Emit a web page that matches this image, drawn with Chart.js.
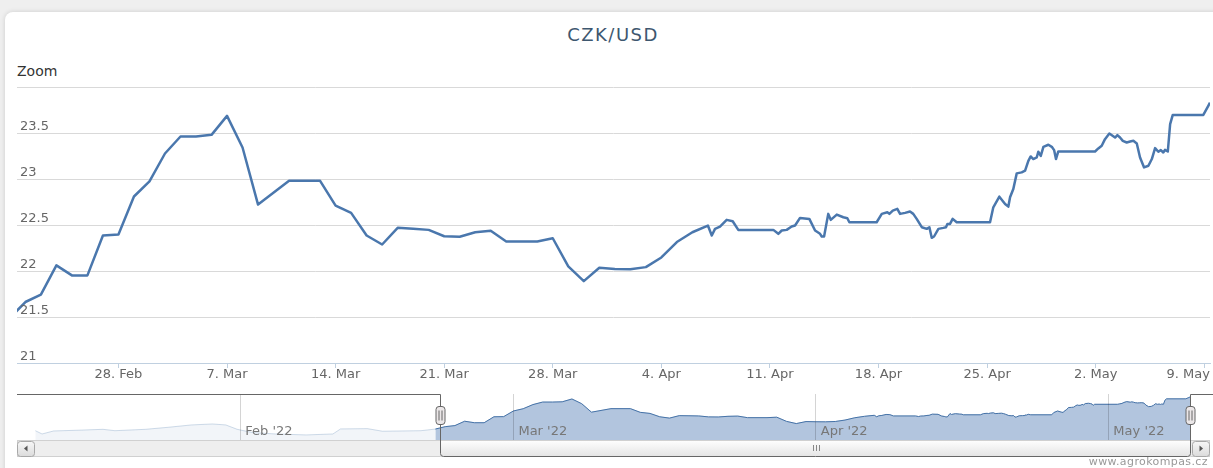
<!DOCTYPE html>
<html>
<head>
<meta charset="utf-8">
<script src="https://cdn.jsdelivr.net/npm/chart.js@4.4.0/dist/chart.umd.min.js"></script>
<style>
  html, body { margin: 0; padding: 0; }
  body { width: 1213px; height: 468px; overflow: hidden; background: #efefef; position: relative; font-family: "DejaVu Sans", sans-serif; }
  #card { position: absolute; left: 5px; top: 12px; width: 1224px; height: 476px; background: #fff; border-radius: 8px; box-shadow: 0 0 5px rgba(0,0,0,0.14); }
  canvas { position: absolute; left: 0; }
  #main { top: 0; }
  #nav { top: 394px; }
  .txt { position: absolute; white-space: nowrap; }
  #title { left: 0; width: 1226px; text-align: center; top: 26px; font-size: 18px; line-height: 18px; color: #3E576F; letter-spacing: 1.5px; }
  #zoom { left: 17px; top: 64px; font-size: 14px; line-height: 14px; color: #333; }
  #credit { right: 5px; top: 456px; font-size: 11px; line-height: 12px; color: #999; letter-spacing: 0.4px; }
</style>
</head>
<body>
<div id="card"></div>
<div class="txt" id="title">CZK/USD</div>
<div class="txt" id="zoom">Zoom</div>
<canvas id="main" width="1213" height="392"></canvas>
<canvas id="nav" width="1213" height="64"></canvas>
<div class="txt" id="credit">www.agrokompas.cz</div>
<script>
// x values are days counted from 28 Feb 2022 (fractions = intraday quotes)
const days = [-7, -6, -5, -4, -3, -2, -1, 0, 1, 2, 3, 4, 5, 6, 7, 8, 9, 11, 13, 14,
  15, 16, 17, 18, 19, 20, 21, 22, 23, 24, 25, 27, 28, 29, 30, 31, 32, 33, 34, 35,
  36, 37, 38, 38.25, 38.46, 38.78, 39.21, 39.6, 39.96, 42.22, 42.54, 42.76, 43.08, 43.4, 43.62, 43.94,
  44.54, 44.91, 45.23, 45.34, 45.49, 45.76, 45.92, 46.31, 46.73, 46.99, 47.12, 48.88, 49.21, 49.57,
  49.7, 49.92, 50.21, 50.39, 50.71, 51.03, 51.24, 51.46, 51.79, 52.11, 52.28, 52.43, 52.58, 52.86,
  53.18, 53.35, 53.44, 53.61, 53.78, 54.04, 56.19, 56.4, 56.79, 57.16, 57.37, 57.48, 57.69, 57.91,
  58.23, 58.45, 58.66, 58.81, 58.98, 59.2, 59.3, 59.46, 59.63, 59.95, 60.17, 60.32, 60.44, 60.59,
  62.96, 63.17, 63.39, 63.6, 63.88, 64.25, 64.4, 64.57, 64.75, 65.0, 65.22, 65.43, 65.65, 65.86,
  66.12, 66.4, 66.62, 66.83, 67.04, 67.2, 67.36, 67.47, 67.65, 67.8, 67.97, 69.94, 70.26, 70.37]
const rates = [21.49, 21.663, 21.743, 22.061, 21.952, 21.952, 22.386, 22.397, 22.81, 22.974, 23.277, 23.462, 23.462, 23.48, 23.686, 23.342, 22.722, 22.98, 22.98, 22.711,
  22.632, 22.386, 22.288, 22.469, 22.46, 22.447, 22.378, 22.372, 22.421, 22.437, 22.321, 22.321, 22.356, 22.05, 21.89, 22.036, 22.023, 22.018, 22.042, 22.147,
  22.315, 22.421, 22.494, 22.386, 22.458, 22.483, 22.556, 22.541, 22.447, 22.447, 22.404, 22.44, 22.447, 22.483, 22.494, 22.577,
  22.566, 22.44, 22.404, 22.375, 22.375, 22.621, 22.556, 22.613, 22.584, 22.573, 22.53, 22.53, 22.621, 22.638,
  22.621, 22.657, 22.675, 22.621, 22.632, 22.646, 22.621, 22.567, 22.476, 22.458, 22.476, 22.361, 22.375, 22.458,
  22.469, 22.476, 22.512, 22.512, 22.567, 22.53, 22.53, 22.692, 22.808, 22.729, 22.7, 22.801, 22.892, 23.061,
  23.072, 23.09, 23.198, 23.245, 23.217, 23.234, 23.296, 23.252, 23.35, 23.372, 23.35, 23.314, 23.217, 23.299,
  23.299, 23.332, 23.361, 23.433, 23.494, 23.451, 23.477, 23.451, 23.415, 23.397, 23.407, 23.415, 23.386, 23.234,
  23.126, 23.144, 23.217, 23.336, 23.296, 23.314, 23.288, 23.317, 23.299, 23.596, 23.697, 23.697, 23.795, 23.83]

// older quotes only visible in the navigator
const navDays = [-48.02, -47.33, -46.14, -43.79, -41.08, -39.86, -36.72, -34.37, -32.02, -29.87,
  -28.49, -27.32, -25.74, -23.39, -20.25, -17.51, -16.72, -13.98, -12.42, -8.48]
const navRates = [21.37, 21.13, 21.35, 21.4, 21.47, 21.37, 21.47, 21.62, 21.79, 21.86,
  21.79, 21.47, 21.23, 21.13, 21.06, 21.13, 21.5, 21.52, 21.33, 21.37]

const xTickDays = [0, 7, 14, 21, 28, 35, 42, 49, 56, 63, 70]
const xTickLabels = ['28. Feb', '7. Mar', '14. Mar', '21. Mar', '28. Mar', '4. Apr', '11. Apr', '18. Apr', '25. Apr', '2. May', '9. May']
const yTicks = [21, 21.5, 22, 22.5, 23, 23.5]
const monthDays = [-27, 1, 32, 62]
const monthLabels = ["Feb '22", "Mar '22", "Apr '22", "May '22"]

// visible range of the main chart (= navigator selection)
const viewMin = -6.54
const viewMax = 70.37

const axisText = {
  id: 'axisText',
  afterDraw(chart) {
    const {ctx, chartArea, scales: {x, y}} = chart
    ctx.save()
    ctx.fillStyle = '#666'
    ctx.font = '13px "DejaVu Sans"'
    ctx.textAlign = 'left'
    ctx.textBaseline = 'alphabetic'
    yTicks.forEach(v => ctx.fillText(String(v), chartArea.left + 3, y.getPixelForValue(v) - 3))
    ctx.textBaseline = 'middle'
    xTickDays.forEach((d, i) => {
      const w = ctx.measureText(xTickLabels[i]).width
      let left = x.getPixelForValue(d) - w / 2
      left = Math.min(left, chartArea.right - w)
      ctx.fillText(xTickLabels[i], left, 375)
    })
    ctx.restore()
  }
}

const mainChart = new Chart(document.getElementById('main'), {
  type: 'line',
  data: {
    datasets: [{
      data: days.map((d, i) => ({x: d, y: rates[i]})),
      borderColor: '#4a77ad',
      borderWidth: 2.5,
      borderJoinStyle: 'round',
      pointRadius: 0,
      tension: 0,
      fill: false
    }]
  },
  options: {
    responsive: false,
    animation: false,
    events: [],
    layout: {padding: {left: 17, right: 3, top: 87, bottom: 24}},
    plugins: {legend: {display: false}, tooltip: {enabled: false}},
    scales: {
      x: {
        type: 'linear', min: viewMin, max: viewMax,
        afterBuildTicks: ax => { ax.ticks = xTickDays.map(v => ({value: v})) },
        grid: {drawOnChartArea: false, drawTicks: true, tickLength: 5, color: '#C0D0E0'},
        border: {color: '#C0D0E0'},
        ticks: {display: false}
      },
      y: {
        min: 21, max: 24,
        ticks: {display: false, stepSize: 0.5},
        grid: {color: c => c.tick && c.tick.value === 21 ? '#C0D0E0' : '#d9d9d9', drawTicks: false},
        border: {display: false}
      }
    }
  },
  plugins: [axisText]
})

// navigator: month labels, handles, outline and scrollbar
const navExtras = {
  id: 'navExtras',
  afterDraw(chart) {
    const {ctx, chartArea: a, scales: {x}} = chart
    ctx.save()
    ctx.font = '13px "DejaVu Sans"'
    ctx.fillStyle = '#777'
    ctx.textBaseline = 'alphabetic'
    monthDays.forEach((d, i) => ctx.fillText(monthLabels[i], x.getPixelForValue(d) + 5, a.bottom - 5))

    const x0 = Math.round(x.getPixelForValue(viewMin)) + 0.5
    const x1 = Math.round(x.getPixelForValue(viewMax)) + 0.5
    const sTop = a.bottom, sH = 17, sBot = sTop + sH

    // track
    ctx.fillStyle = '#eeeeee'
    ctx.fillRect(17, sTop, 1193, sH)
    ctx.strokeStyle = '#d0d0d0'
    ctx.lineWidth = 1
    ctx.strokeRect(17.5, sTop + 0.5, 1192, sH - 1)

    // thumb
    const g = ctx.createLinearGradient(0, sTop, 0, sBot)
    g.addColorStop(0, '#ffffff')
    g.addColorStop(1, '#e3e3e3')
    ctx.fillStyle = g
    ctx.fillRect(x0, sTop + 1, x1 - x0, sH - 1)
    ctx.strokeStyle = '#888'
    const gx = Math.round((x0 + x1) / 2) + 0.5
    ctx.beginPath()
    ;[-3, 0, 3].forEach(o => { ctx.moveTo(gx + o, sTop + 5); ctx.lineTo(gx + o, sTop + 11) })
    ctx.stroke()

    // arrow buttons
    const button = (bx, dir) => {
      const bg = ctx.createLinearGradient(0, sTop, 0, sBot)
      bg.addColorStop(0, '#fafafa')
      bg.addColorStop(1, '#dadada')
      ctx.fillStyle = bg
      ctx.strokeStyle = '#a8a8a8'
      ctx.beginPath()
      ctx.roundRect(bx + 0.5, sTop + 1.5, 17, sH - 2, 3)
      ctx.fill()
      ctx.stroke()
      const cx = bx + 9, cy = sTop + 8.5
      ctx.fillStyle = '#555'
      ctx.beginPath()
      ctx.moveTo(cx - 2 * dir, cy)
      ctx.lineTo(cx + 1.5 * dir, cy - 3)
      ctx.lineTo(cx + 1.5 * dir, cy + 3)
      ctx.closePath()
      ctx.fill()
    }
    button(17, 1)
    button(1192, -1)

    // outline around the selection
    ctx.strokeStyle = '#666'
    ctx.beginPath()
    ctx.moveTo(17, 0.5)
    ctx.lineTo(x0, 0.5)
    ctx.arcTo(x0, sBot - 0.5, x0 + 4, sBot - 0.5, 3)
    ctx.arcTo(x1, sBot - 0.5, x1, sBot - 4, 3)
    ctx.lineTo(x1, 0.5)
    ctx.lineTo(1213, 0.5)
    ctx.stroke()

    // handles
    ;[x0, x1].forEach(hx => {
      ctx.fillStyle = '#ebe7e8'
      ctx.strokeStyle = '#666'
      ctx.beginPath()
      ctx.roundRect(hx - 4.5, 12.5, 9, 18, 3)
      ctx.fill()
      ctx.stroke()
      ctx.beginPath()
      ctx.moveTo(hx - 1.5, 16.5); ctx.lineTo(hx - 1.5, 26.5)
      ctx.moveTo(hx + 1.5, 16.5); ctx.lineTo(hx + 1.5, 26.5)
      ctx.stroke()
    })
    ctx.restore()
  }
}

const allDays = navDays.concat(days)
const allRates = navRates.concat(rates)

const navChart = new Chart(document.getElementById('nav'), {
  type: 'line',
  data: {
    datasets: [{
      // selected part, drawn on top
      data: days.map((d, i) => ({x: d, y: rates[i]})),
      borderColor: '#4572A7',
      borderWidth: 1,
      backgroundColor: 'rgb(178,197,222)',
      fill: 'start',
      pointRadius: 0,
      tension: 0
    }, {
      data: allDays.map((d, i) => ({x: d, y: allRates[i]})),
      borderColor: 'rgba(69,114,167,0.25)',
      borderWidth: 1,
      backgroundColor: 'rgba(69,114,167,0.07)',
      fill: 'start',
      pointRadius: 0,
      tension: 0
    }]
  },
  options: {
    responsive: false,
    animation: false,
    events: [],
    layout: {padding: {left: 17, right: 23, top: 0, bottom: 18}},
    plugins: {legend: {display: false}, tooltip: {enabled: false}},
    scales: {
      x: {
        type: 'linear', min: -49.9, max: viewMax,
        afterBuildTicks: ax => { ax.ticks = monthDays.map(v => ({value: v})) },
        grid: {drawTicks: false, color: 'rgba(0,0,0,0.17)', z: 1},
        border: {display: false},
        ticks: {display: false}
      },
      y: {display: false, min: 20.69, max: 24.05}
    }
  },
  plugins: [navExtras]
})
</script>
</body>
</html>
